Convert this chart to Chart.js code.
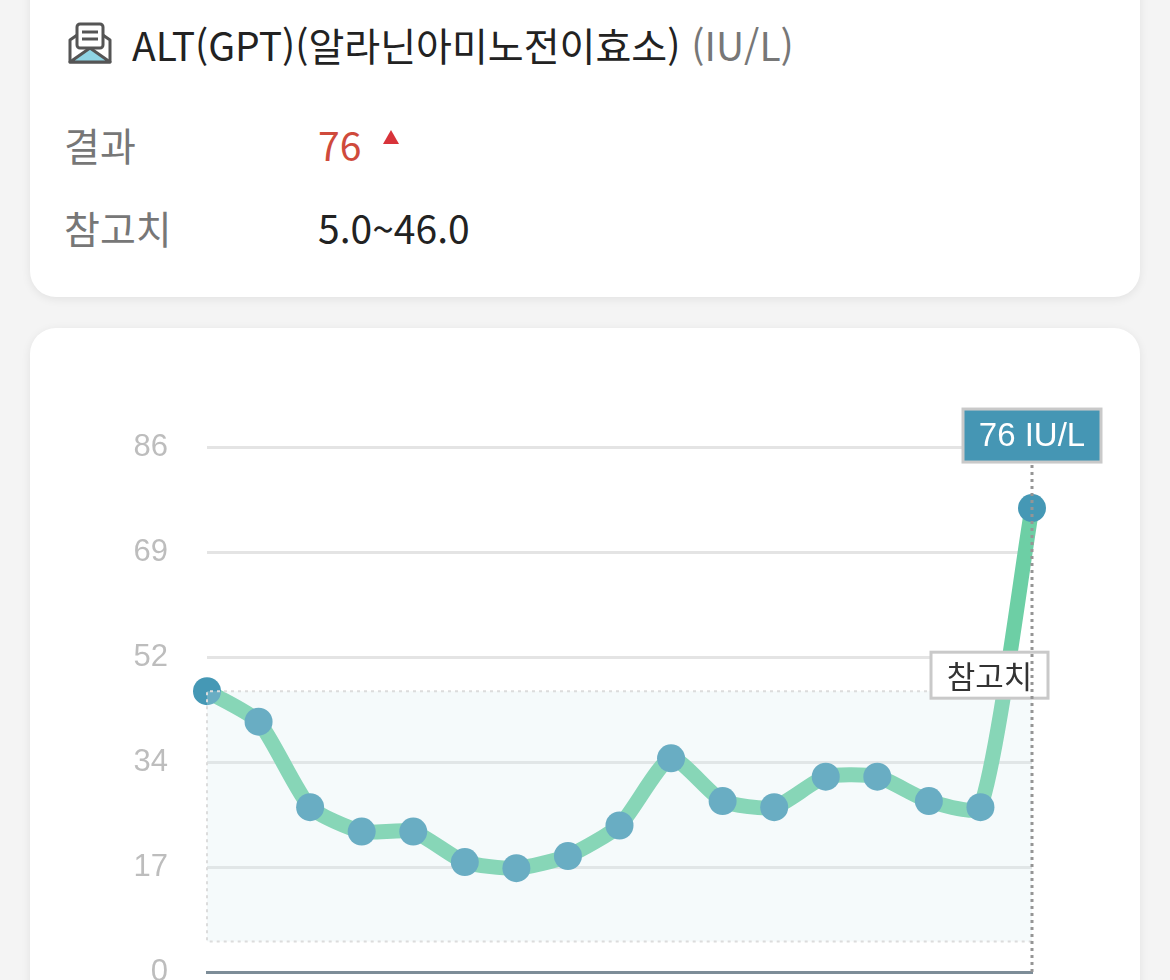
<!DOCTYPE html>
<html lang="ko">
<head>
<meta charset="utf-8">
<script src="https://cdn.jsdelivr.net/npm/chart.js@4"></script>
<style>
  html, body { margin: 0; padding: 0; }
  body {
    width: 1170px; height: 980px; overflow: hidden; position: relative;
    background: #f4f4f4;
    font-family: "Noto Sans CJK KR", "Noto Sans", sans-serif;
  }
  .card {
    position: absolute; left: 30px; width: 1110px; background: #fff;
    border-radius: 26px; box-shadow: 0 2px 10px rgba(0,0,0,0.08);
  }
  #infoCard { top: -40px; height: 337px; }
  #chartCard { top: 328px; height: 700px; }
  .title {
    position: absolute; left: 102px; top: 65px; font-size: 39px; color: #222;
    line-height: 1; white-space: nowrap;
  }
  .title .unit { color: #777; }
  .icon { position: absolute; left: 36px; top: 62px; }
  .row { position: absolute; left: 34px; font-size: 39px; line-height: 1; color: #777; }
  .row .val { position: absolute; left: 254px; top: 0; white-space: nowrap; color: #222; }
  .row .val.high { color: #cf4a3c; }
  .tri {
    display: inline-block; width: 0; height: 0; margin-left: 22px; vertical-align: 17px;
    border-left: 8px solid transparent; border-right: 8px solid transparent;
    border-bottom: 14px solid #d8333a;
  }
  #chartWrap { position: absolute; left: 0; top: 0; width: 1170px; height: 1000px; }
</style>
</head>
<body>
<div class="card" id="infoCard">
  <svg class="icon" width="48" height="44" viewBox="0 0 48 44">
    <path d="M4 18 L24 4 L44 18 L44 40 L4 40 Z" fill="#fff" stroke="#555" stroke-width="3" stroke-linejoin="round"/>
    <path d="M4 40 L24 26 L44 40 Z" fill="#8fd4e4" stroke="#555" stroke-width="3" stroke-linejoin="round"/>
    <rect x="11" y="2" width="26" height="24" rx="3" fill="#fff" stroke="#555" stroke-width="3"/>
    <line x1="16" y1="10" x2="32" y2="10" stroke="#555" stroke-width="3"/>
    <line x1="16" y1="17" x2="32" y2="17" stroke="#555" stroke-width="3"/>
  </svg>
  <div class="title">ALT(GPT)(알라닌아미노전이효소) <span class="unit">(IU/L)</span></div>
  <div class="row" style="top:165px">결과<span class="val high">76<span class="tri"></span></span></div>
  <div class="row" style="top:248px">참고치<span class="val">5.0~46.0</span></div>
</div>
<div class="card" id="chartCard"></div>
<div id="chartWrap"><canvas id="altChart"></canvas></div>

<script>
// ALT 측정 이력
const testDates = ["1", "2", "3", "4", "5", "6", "7", "8", "9", "10", "11", "12", "13", "14", "15", "16", "17"];
const altValues = [46, 41, 27, 23, 23, 18, 17, 19, 24, 35, 28, 27, 32, 32, 28, 27, 76];
const refRange = [5, 46];
const yTickValues = [0, 17.2, 34.4, 51.6, 68.8, 86];
const unitLabel = "IU/L";
const refLabel = "참고치";

const colors = {
    line: "#6dcfa5",
    point: "#4598b5",
    grid: "#e4e4e4",
    tick: "#bdbdbd",
    axis: "#7d8d98",
    band: "rgba(215, 235, 240, 0.25)",
    bandEdge: "#dcdcdc",
    guide: "#959595",
    badge: "#4596b4",
    boxEdge: "#c9c9c9"
};

function box(ctx, x, y, w, h, fill, text, textColor, font) {
    ctx.fillStyle = fill;
    ctx.fillRect(x, y, w, h);
    ctx.strokeStyle = colors.boxEdge;
    ctx.lineWidth = 3;
    ctx.setLineDash([]);
    ctx.strokeRect(x, y, w, h);
    ctx.fillStyle = textColor;
    ctx.font = font;
    ctx.textAlign = "center";
    ctx.textBaseline = "middle";
    ctx.fillText(text, x + w / 2, y + h / 2 + 1);
}

const refPlugin = {
    id: "refBand",
    afterDatasetsDraw(chart) {
        const { ctx, chartArea, scales } = chart;
        const yTop = scales.y.getPixelForValue(refRange[1]);
        const yBot = scales.y.getPixelForValue(refRange[0]);
        const last = altValues.length - 1;
        const xLast = scales.x.getPixelForValue(last);
        const yLast = scales.y.getPixelForValue(altValues[last]);

        ctx.save();
        // reference band
        ctx.fillStyle = colors.band;
        ctx.fillRect(chartArea.left, yTop, chartArea.right - chartArea.left, yBot - yTop);
        ctx.strokeStyle = colors.bandEdge;
        ctx.lineWidth = 2;
        ctx.setLineDash([3, 4]);
        ctx.beginPath();
        ctx.moveTo(chartArea.right, yTop);
        ctx.lineTo(chartArea.left, yTop);
        ctx.lineTo(chartArea.left, yBot);
        ctx.lineTo(chartArea.right, yBot);
        ctx.stroke();

        // 참고치 label
        box(ctx, chartArea.right - 101, yTop - 39, 117, 46, "#fff", refLabel, "#333",
            "31px 'Noto Sans CJK KR', sans-serif");

        // guide line from last point
        ctx.strokeStyle = colors.guide;
        ctx.lineWidth = 3;
        ctx.setLineDash([3, 4]);
        ctx.beginPath();
        ctx.moveTo(xLast, chartArea.bottom);
        ctx.lineTo(xLast, yLast - 44);
        ctx.stroke();

        // value badge
        box(ctx, xLast - 69, yLast - 99, 138, 53, colors.badge, altValues[last] + " " + unitLabel, "#fff",
            "33px 'Liberation Sans', Arial, sans-serif");
        ctx.restore();
    }
};

new Chart(document.getElementById("altChart"), {
    type: "line",
    data: {
        labels: testDates,
        datasets: [{
            data: altValues,
            borderColor: colors.line,
            borderWidth: 15,
            tension: 0.2,
            pointRadius: 14,
            pointBorderWidth: 0,
            pointBackgroundColor: colors.point,
            fill: false
        }]
    },
    options: {
        responsive: true,
        maintainAspectRatio: false,
        animation: false,
        events: [],
        layout: { padding: { left: 0, right: 138, top: 447, bottom: 28 } },
        plugins: { legend: { display: false }, tooltip: { enabled: false } },
        scales: {
            x: {
                offset: false,
                grid: { display: false },
                ticks: { display: false },
                border: { display: true, color: colors.axis, width: 3 },
                afterFit(scale) { scale.height = 0; scale.paddingLeft = 0; scale.paddingRight = 0; }
            },
            y: {
                min: 0,
                max: 86,
                afterBuildTicks(scale) { scale.ticks = yTickValues.map(v => ({ value: v })); },
                ticks: {
                    color: colors.tick,
                    padding: 39,
                    font: { family: "'Liberation Sans', Arial, sans-serif", size: 31 },
                    callback: v => Math.round(v)
                },
                grid: { color: colors.grid, lineWidth: 3, drawTicks: false },
                border: { display: false },
                afterFit(scale) { scale.width = 207; scale.paddingTop = 0; scale.paddingBottom = 0; }
            }
        }
    },
    plugins: [refPlugin]
});
</script>
</body>
</html>
